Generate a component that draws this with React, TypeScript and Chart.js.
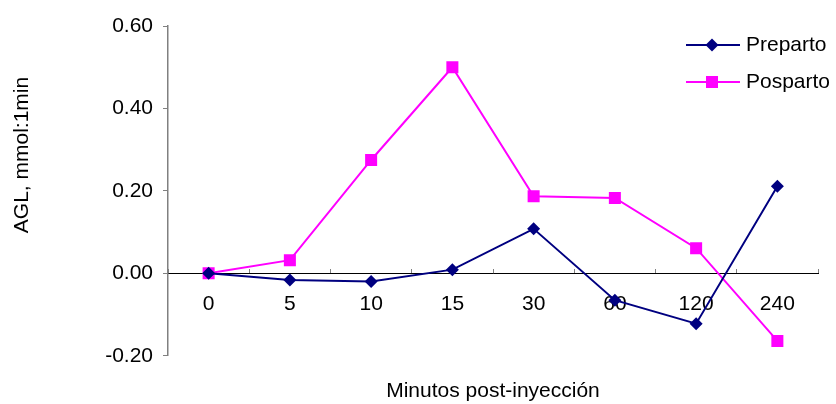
import React, { useEffect, useRef } from "react";
import { Chart, registerables } from "chart.js";

Chart.register(...registerables);

const categories = ["0", "5", "10", "15", "30", "60", "120", "240"];
const preparto = [0.0, -0.016, -0.02, 0.009, 0.108, -0.065, -0.122, 0.211];
const posparto = [0.0, 0.032, 0.275, 0.5, 0.187, 0.183, 0.061, -0.164];
const seriesNames = ["Preparto", "Posparto"];
const yTitle = "AGL, mmol:1min";
const xTitle = "Minutos post-inyección";

const FONT = "'Liberation Sans', Arial, sans-serif";
const FS = 21;

const overlayPlugin = {
  id: "overlay",
  afterDraw(chart: any) {
    const ctx = chart.ctx;
    ctx.save();
    ctx.font = `${FS}px ${FONT}`;
    ctx.fillStyle = "#000";
    ctx.textAlign = "center";
    ctx.textBaseline = "middle";
    ctx.translate(22, 155);
    ctx.rotate(-Math.PI / 2);
    ctx.fillText(yTitle, 0, 0);
    ctx.restore();

    ctx.save();
    const ds = chart.data.datasets;
    const ys = [45, 82];
    ds.forEach((d: any, i: number) => {
      const y = ys[i];
      ctx.strokeStyle = d.borderColor;
      ctx.lineWidth = 2;
      ctx.beginPath();
      ctx.moveTo(686, y);
      ctx.lineTo(740, y);
      ctx.stroke();
      ctx.fillStyle = d.pointBackgroundColor;
      ctx.beginPath();
      if (d.pointStyle === "rectRot") {
        const r = d.pointRadius;
        ctx.moveTo(712 - r, y);
        ctx.lineTo(712, y - r);
        ctx.lineTo(712 + r, y);
        ctx.lineTo(712, y + r);
        ctx.closePath();
      } else {
        const s = d.pointRadius * Math.SQRT1_2;
        ctx.rect(712 - s, y - s, 2 * s, 2 * s);
      }
      ctx.fill();
      ctx.fillStyle = "#000";
      ctx.font = `${FS}px ${FONT}`;
      ctx.textAlign = "left";
      ctx.textBaseline = "middle";
      ctx.fillText(d.label, 746, y);
    });
    ctx.restore();
  },
};

export default function App() {
  const ref = useRef<HTMLCanvasElement>(null);
  useEffect(() => {
    document.body.style.margin = "0";
    const chart = new Chart(ref.current!, {
      type: "line",
      data: {
        labels: categories,
        datasets: [
          {
            label: seriesNames[0],
            data: preparto,
            borderColor: "#000080",
            backgroundColor: "#000080",
            pointBackgroundColor: "#000080",
            pointBorderColor: "#000080",
            pointStyle: "rectRot",
            pointRadius: 6.5,
            pointBorderWidth: 0,
            borderWidth: 2,
            tension: 0,
          },
          {
            label: seriesNames[1],
            data: posparto,
            borderColor: "#FF00FF",
            backgroundColor: "#FF00FF",
            pointBackgroundColor: "#FF00FF",
            pointBorderColor: "#FF00FF",
            pointStyle: "rect",
            pointRadius: 8.5,
            pointBorderWidth: 0,
            borderWidth: 2,
            tension: 0,
          },
        ],
      },
      options: {
        animation: false,
        responsive: false,
        layout: { padding: { top: 26, right: 18, left: 0, bottom: 0 } },
        plugins: {
          legend: { display: false },
          tooltip: { enabled: false },
          title: {
            display: true,
            text: xTitle,
            position: "bottom",
            fullSize: false,
            color: "#000",
            font: { family: FONT, size: FS, weight: "normal" },
            padding: { top: 23, bottom: 0 },
          },
        },
        scales: {
          x: {
            type: "category",
            offset: true,
            position: { y: 0 } as any,
            afterFit: (s: any) => {
              s.height = 0;
            },
            grid: {
              display: true,
              drawOnChartArea: false,
              drawTicks: true,
              tickLength: -5,
              offset: true,
              color: "#808080",
            },
            border: { display: true, color: "#000", width: 1 },
            ticks: {
              color: "#000",
              font: { family: FONT, size: FS },
              padding: 23,
              maxRotation: 0,
              autoSkip: false,
            },
          },
          y: {
            min: -0.2,
            max: 0.6,
            afterFit: (s: any) => {
              s.width = 168;
            },
            grid: {
              display: true,
              drawOnChartArea: false,
              drawTicks: true,
              tickLength: 5,
              color: "#808080",
            },
            border: { display: true, color: "#808080", width: 1.5 },
            ticks: {
              stepSize: 0.2,
              color: "#000",
              font: { family: FONT, size: FS },
              padding: 10,
              callback: (v: any) => Number(v).toFixed(2),
            },
          },
        },
      },
      plugins: [overlayPlugin],
    });
    return () => chart.destroy();
  }, []);
  return (
    <div style={{ width: 836, height: 404 }}>
      <canvas ref={ref} width={836} height={404} style={{ display: "block" }} />
    </div>
  );
}
